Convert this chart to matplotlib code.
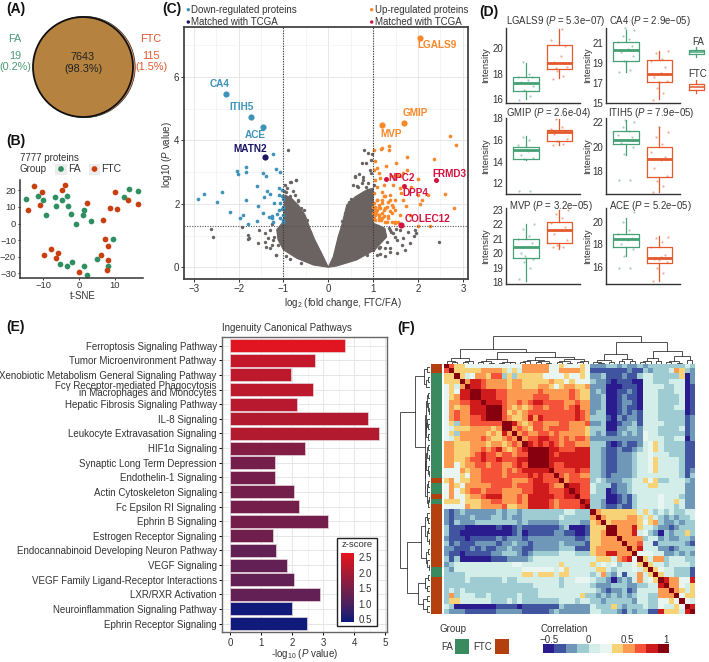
import matplotlib
matplotlib.use('Agg')
import matplotlib.pyplot as plt
from matplotlib.colors import ListedColormap, LinearSegmentedColormap
from matplotlib.patches import Circle, Rectangle
import numpy as np

plt.rcParams['font.family'] = ['Liberation Sans', 'DejaVu Sans']
plt.rcParams['mathtext.fontset'] = 'custom'
plt.rcParams['mathtext.rm'] = 'Liberation Sans'
plt.rcParams['mathtext.it'] = 'Liberation Sans:italic'
plt.rcParams['mathtext.bf'] = 'Liberation Sans:bold'
plt.rcParams['mathtext.default'] = 'regular'

W, H = 709, 662
TXT = '#333333'
GREEN = '#2f8f63'
RED = '#c8400f'

# ---------- panel B ----------
tsne_fa_x = [-14.9,-11.5,-10.1,-9.3,-6.7,-6.6,-4.8,-3.3,-3.0,-2.4,-0.8,1.3,1.1,3.4,12.6,14.1,16.4,9.4,5.1,8.0,-5.3,-3.3,-2.0,1.3,2.3]
tsne_fa_y = [14.5,16.7,14.1,5.4,16.1,10.7,13.9,16.5,10.5,5.8,0,8.1,5.0,1.6,16.1,20.6,19.6,-9.5,-21.4,-25.8,-24.2,-25.8,-23.2,-25.6,-31.0]
tsne_ftc_x = [-14.3,-12.6,-10.3,-10.9,-4.8,-4.0,2.3,6.8,8.7,10.1,10.6,13.6,16.5,7.2,8.0,-9.8,-7.8,-6.0,-6.6,6.1,8.1,7.7,0.1]
tsne_ftc_y = [8.3,22.6,19.2,11.3,20.4,23.4,12.1,2.2,9.5,18.8,8.7,13.9,11.7,-9.5,-13.5,-18.8,-15.3,-17.9,-20.6,-19.0,-21.8,-28.2,-29.4]

# ---------- panel C ----------
down_x = [-2.90,-2.77,-2.37,-2.48,-2.19,-1.96,-1.90,-1.80,-1.59,-1.83,-1.83,-1.83,-2.04,-2.02,-1.58,-1.46,-1.38,-1.24,-1.16,-1.07,-1.46,-1.56,-1.37,-1.29,-1.43,-1.22,-1.11,-1.07,-1.33,-1.26,-1.23,-1.14,-1.10,-1.03,-1.08,-1.00,-1.25,-1.04,-1.00,-1.03,-1.10,-1.02,-1.00,-1.00]
down_y = [2.14,2.32,2.38,2.07,1.75,1.55,1.64,1.36,1.45,2.11,3.17,3.00,3.04,2.95,2.56,2.96,2.87,3.56,3.09,3.00,1.70,1.94,2.41,2.32,2.20,2.02,2.49,2.02,1.59,1.62,1.43,1.69,1.79,1.83,1.55,1.49,1.54,2.23,2.14,2.44,2.28,1.91,1.65,1.41]
up_x = [2.71,2.85,2.35,1.75,1.20,1.17,1.02,1.35,1.36,1.03,1.29,1.08,1.51,1.02,1.12,1.75,1.67,1.60,1.52,1.41,1.15,1.04,1.99,1.84,1.62,1.60,1.45,1.23,1.08,1.19,1.02,1.23,1.38,1.49,1.67,2.01,2.08,2.23,2.60,2.80,2.04,1.73,1.82,2.01,2.27,1.41,1.60,1.34,1.49,1.30,1.17,1.04,1.12,1.19,1.08,1.02,1.06,1.14,1.23,1.02,1.12,1.00,1.00,1.30,1.45,1.38,1.23,
        1.04,1.08,1.12,1.15,1.04,1.12,1.19,1.04,1.12,1.19,1.26,1.08,1.19,1.26,1.34,1.41,1.26,1.38,1.49,1.34,1.41,1.49,1.56]
up_y = [4.12,3.85,3.42,3.48,3.75,3.72,3.68,3.82,3.70,3.34,3.20,3.12,3.27,3.07,2.96,3.05,2.96,2.86,2.91,2.86,2.80,2.75,2.78,2.54,2.33,2.49,2.59,2.59,2.54,2.38,2.33,2.23,2.28,2.12,2.12,2.28,2.12,2.27,2.32,1.86,2.00,1.93,1.65,1.31,1.31,1.70,1.65,1.60,1.44,1.41,1.49,1.81,1.91,2.02,2.12,2.02,1.70,1.65,1.81,1.54,1.54,1.70,1.91,1.91,1.91,2.12,1.60,
        1.91,1.81,1.96,1.86,1.65,1.65,1.70,1.49,1.49,1.54,1.44,2.12,2.12,2.23,2.07,1.96,1.86,1.76,1.81,1.54,1.44,1.39,1.44]
gray_x = [-2.62,-2.58,-1.93,-1.78,-1.77,-1.80,-1.55,-1.41,-1.30,-1.56,-1.41,-1.38,-1.17,-1.30,-1.23,-0.89,-0.71,-0.86,-0.97,-0.95,-0.74,-0.67,-0.86,0.80,0.89,0.98,0.96,0.85,0.74,0.59,0.56,0.63,0.78,0.74,0.85,0.93,0.96,0.93,2.46,1.96,1.93,1.90,1.64,1.67,1.82,1.38,1.30,1.52,1.45,1.78,1.60,1.38,1.12,1.00,0.86,1.26,-1.05,-1.10,-1.25,-1.35,-0.98,-0.92,-1.12,0.68,0.72,1.02,1.35,1.50,1.70,1.10,1.25,
          -0.71,-0.83,-0.68,-0.60,-0.48,-0.40,-0.55,-0.78,0.60,0.67,0.45,0.37,0.89,0.50,0.30,0.78,1.15,1.26,1.38,1.15,1.53,1.08,1.48,1.40,-1.26,-1.17,-1.22,-0.95,-0.85,-0.60,-1.05]
gray_y = [1.22,0.95,1.28,1.02,0.91,0.89,1.18,1.07,1.18,0.76,0.81,0.65,0.39,0.60,0.86,3.70,2.75,2.69,2.59,2.38,2.27,2.12,2.23,3.68,3.59,3.57,3.39,3.29,3.27,2.87,2.58,2.56,2.84,2.65,2.54,3.05,2.96,2.33,0.78,1.07,1.18,0.97,0.71,0.92,0.76,0.60,0.81,0.86,1.07,1.12,1.18,1.18,0.60,0.55,0.39,0.34,1.30,1.10,1.35,0.92,2.40,2.50,0.70,2.95,2.25,2.60,1.25,1.20,0.55,1.30,0.95,
          2.75,2.67,2.10,1.86,1.49,1.10,1.80,2.40,2.84,2.54,2.07,1.70,2.65,2.15,1.45,2.75,0.65,0.60,0.49,0.42,0.45,0.38,0.95,1.10,0.70,0.37,0.95,0.35,0.25,0.12,1.05]
mass_right_x = [0,0.11,0.22,0.30,0.41,0.60,0.86,1.0,1.0,1.26,1.30,1.04,0.63,0.19]
mass_right_y = [0,0.33,0.96,1.33,1.96,2.22,2.44,2.49,1.39,1.23,0.96,0.55,0.23,0.04]
mass_left_x = [0,-0.15,-0.30,-0.41,-0.52,-0.67,-0.82,-0.97,-0.99,-1.0,-1.15,-1.12,-1.0,-0.70,-0.33]
mass_left_y = [0,0.44,0.86,1.23,1.65,1.96,2.17,2.28,1.75,1.44,1.18,0.86,0.55,0.28,0.07]
named_genes = ['LGALS9','CA4','ITIH5','ACE','MATN2','GMIP','MVP','NPC2','DPP4','FRMD3','COLEC12']
named_x = [2.04,-2.29,-1.72,-1.46,-1.41,1.69,1.20,1.29,1.69,2.39,1.62]
named_y = [7.22,5.45,4.74,4.41,3.46,4.55,4.49,2.78,2.56,2.74,1.33]

# ---------- panel D : [low whisker, q1, median, q3, high whisker] ----------
lgals9_fa = [15.95,16.64,17.22,17.70,18.86]; lgals9_ftc = [17.62,18.36,18.86,20.24,21.5]
ca4_fa = [18.07,19.17,20.33,21.17,22.33]; ca4_ftc = [15.33,17.1,17.93,19.27,20.17]
gmip_fa = [14.15,14.28,15.02,15.38,16.37]; gmip_ftc = [15.5,15.88,16.68,16.92,17.9]
itih5_fa = [19.34,20.25,20.58,21.26,22.16]; itih5_ftc = [16.33,17.56,18.99,19.97,21.62]
mvp_fa = [18.1,19.66,20.46,21.0,22.0]; mvp_ftc = [20.3,20.69,21.63,22.14,23.0]
ace_fa = [16.96,17.8,18.5,18.95,20.36]; ace_ftc = [14.8,16.36,16.77,17.76,18.74]
lgals9_pts_fa = [15.9,16.2,16.7,17.0,17.3,17.5,17.7,17.75,18.0,18.9]
lgals9_pts_ftc = [17.6,17.8,18.2,18.5,18.9,19.4,20.2,20.7,21.5,18.4]
ca4_pts_fa = [18.1,18.3,19.2,19.7,20.1,20.4,20.7,21.1,21.4,21.7,22.3,22.5]
ca4_pts_ftc = [15.3,16.0,16.5,17.2,17.6,18.0,18.6,19.2,19.4,20.0,20.2,17.1]
gmip_pts_fa = [11.3,11.3,14.2,14.3,14.6,15.0,15.1,15.5,16.0,16.3]
gmip_pts_ftc = [15.5,15.6,15.9,16.1,16.5,16.7,16.8,17.0,17.2,17.9]
itih5_pts_fa = [17.3,17.3,19.4,20.0,20.3,20.6,20.8,21.0,21.3,21.6,22.0,22.2]
itih5_pts_ftc = [16.3,16.8,17.2,17.6,18.3,18.9,19.2,19.6,20.2,20.8,21.2,21.6]
mvp_pts_fa = [18.2,19.0,19.4,19.6,20.0,20.4,20.7,21.0,21.2,21.7,22.0,19.8]
mvp_pts_ftc = [20.4,20.4,20.6,20.9,21.3,21.6,21.8,22.1,22.4,22.7,23.0,20.5]
ace_pts_fa = [15.9,15.9,17.0,17.6,18.0,18.4,18.6,18.9,19.3,20.0,20.9,21.2]
ace_pts_ftc = [14.8,15.5,15.9,16.4,16.7,16.9,17.1,17.8,18.2,18.6,18.7,16.6]
jitter = [-0.2,0.12,-0.06,0.22,-0.15,0.05,0.18,-0.24,0.09,-0.1,0.25,-0.02]

# ---------- panel E ----------
pathways = ['Ferroptosis Signaling Pathway','Tumor Microenvironment Pathway','Xenobiotic Metabolism General Signaling Pathway',
 'Fcγ Receptor-mediated Phagocytosis\nin Macrophages and Monocytes','Hepatic Fibrosis Signaling Pathway','IL-8 Signaling',
 'Leukocyte Extravasation Signaling','HIF1α Signaling','Synaptic Long Term Depression','Endothelin-1 Signaling',
 'Actin Cytoskeleton Signaling','Fc Epsilon RI Signaling','Ephrin B Signaling','Estrogen Receptor Signaling',
 'Endocannabinoid Developing Neuron Pathway','VEGF Signaling','VEGF Family Ligand-Receptor Interactions','LXR/RXR Activation',
 'Neuroinflammation Signaling Pathway','Ephrin Receptor Signaling']
neglogp = [3.71,2.75,1.96,2.68,2.15,4.46,4.81,2.43,1.44,1.46,2.05,2.24,3.17,1.40,1.49,1.83,2.05,2.89,2.01,2.49]
zscore = [2.55,2.25,2.2,2.2,2.15,2.1,2.1,1.6,1.45,1.45,1.45,1.45,1.45,1.4,1.25,1.25,1.25,1.25,0.45,0.45]

# ---------- panel F : upper triangle of the correlation matrix, one letter per colour class ----------
corr_levels = ['#2a1c8e','#40549f','#6f97b8','#9fcbd2','#d3ede9','#e8f5f0','#f8d277','#fb9a50','#f4533a','#cf1b1b','#860010']
ul = ["kiggfffffffffffhhhhhffgfffgf","kggggghhhhgegehhhhhffhhhhgf","kgefhhgiidgdgggggffffgffgf","khjjihhhhghhggggghggfgfff",
"kjjihhhhghhggghhgfghhggh","kkjjjiihhhhhhihhhhhihgg","kjjjiihhhhhiiihhhhihgg","kjjjihhihijjiiiihhihh","kkkihghghiihiiihijhh",
"kkighghiiiiiiiiijih","kihgghjhjiiiiiijih","kkjhghiihhhiihhhi","khihgiihiiiihhhg","khihhiihihhhhhg",
"khiijjiihihiih","kjijijihiihhh","kkkkjjiiijjj","kkkjijjjjjj","kkjjjjjjjj","kjiijjjjj","kiiiijii","kihiihh","khiiii","kjjii","kjii","kii","kj","k"]
ur = ["cccddcdccdcddddddded","bbbbbbbcbbdcdddehgdc","ccdbbbcbbdeedddddgac","dccbabbbaaeedddeeeac","cccaaabbbaeeeeddeeab","cdcaabbcbaeeedddeeab",
"ccdaabcbbaeeeddddeab","ccdaabccbaeeeddddeab","ccdaabcbbaeeedddeeab","cddaabcbcbeeedddddab","dddbacbccbeeedddddbc","ccdaabccdbeeeeddddbc",
"dddaaccddceeeddddebc","dcdbbcdcdcfeedddddbc","ccccccccccfeeeddeeac","dddbabcbbcefgeddddbb","ddcbbcbbcdefgeddddbb","ddcbbcccdeefeeedddbb",
"ddcbbcccdeefgeeeedbb","ddcbbcccdeefgeeeedbb","ddcbbcccdeefgeeeedbc","ddcbccccdeeeeeeeedbd","dedcccddeegfgddeeedc","edddbccdeeeggeeeeecc",
"eddabccdeeeeeeeeeecc","dddaabcbdeeeefeeedcc","ddcaabcbdeeeefeegecc","ddcbbcbbdeeeefeedecc"]
lr = ["khgggggggegedededdee","khgggghhgegedcdcdde","kghhhhhgfghdccdcdd","kkhhhjgeedccbcddd","khhhjefdcadcddgd","khhhhdeecdccddc",
"khhieebdddddcb","khjeeeccbcddd","kfffeeccdcdc","kgehhdeeedd","kgeedeeeed","kgfeedddb","kgeedddb","kjhhffj","khhfeg","khgeg","kfgg","kfe","kj","k"]
row_groups = ['FTC']*2+['FA']*20+['FTC']+['FA']*2+['FTC']+['FA']+['FTC']*12+['FA']*2+['FTC']*7
# dendrograms: (height, left, right) with 0 for a leaf
row_tree = (91,(45,(18,(8,0,0),(13,(6,0,0),0)),
  (15,(13,(9,(5,0,0),(7,0,(4,0,0))),(11,(8,0,(5,0,0)),(6,0,0))),
      (14,(12,(9,(6,0,0),(4,0,0)),(7,0,(4,0,0))),(10,(8,(5,0,0),0),(6,(3,0,0),0))))),
  (68,(28,(15,(8,0,(5,0,0)),(9,(6,0,0),(4,0,0))),(12,(7,0,0),(8,0,(4,0,0)))),
      (35,(14,(7,0,0),(9,0,0)),(20,(10,0,0),(8,0,0)))))
col_tree = (84,(44,(17,(8,0,(5,0,0)),(9,(6,0,0),0)),
  (35,(15,(9,(6,0,0),(4,0,0)),(7,(3,0,0),(5,0,0))),
      (20,(12,(8,(5,0,0),0),(9,(5,0,0),(4,0,0))),(14,(9,(6,0,0),(4,0,0)),(8,(5,0,0),0))))),
  (65,(30,(12,(7,0,(4,0,0)),(6,0,0)),(15,(9,0,0),(8,0,0))),
      (40,(18,(9,(5,0,0),0),(8,0,0)),(25,(10,(6,0,0),(4,0,0)),(12,0,0)))))

fig = plt.figure(figsize=(W/100, H/100), dpi=100)

def axpx(l, t, r, b, **kw):
    return fig.add_axes([l/W, 1-b/H, (r-l)/W, (b-t)/H], **kw)

ov = axpx(0, 0, W, H)
ov.set_xlim(0, W); ov.set_ylim(H, 0); ov.axis('off'); ov.set_zorder(10); ov.patch.set_alpha(0)

for lab, x, y in [('(A)',6,9),('(B)',6,141),('(C)',162,9),('(D)',479,12),('(E)',6,327),('(F)',397,328)]:
    ov.text(x, y, lab, fontsize=10, fontweight='bold', va='center', ha='left', color='#111111')

# ---------- A ----------
ov.add_patch(Circle((84.6, 67), 50.6, fc='#f09a62', ec='#2a2a2a', lw=0.5))
ov.add_patch(Circle((83, 67), 50, fc='#b5823f', ec='#111111', lw=1.3))
ov.text(83, 57, '7643', fontsize=7.8, ha='center', va='center', color='#222222')
ov.text(83, 69, '(98.3%)', fontsize=7.8, ha='center', va='center', color='#222222')
for t, y in [('FA',39),('19',56),('(0.2%)',67)]:
    ov.text(15, y, t, fontsize=7.8, ha='center', va='center', color='#4d9a75')
for t, y in [('FTC',39),('115',56),('(1.5%)',67)]:
    ov.text(151, y, t, fontsize=7.8, ha='center', va='center', color='#e0562c')

# ---------- B ----------
axb = axpx(19.5, 180, 143, 278)
axb.scatter(tsne_fa_x, tsne_fa_y, s=17, color=GREEN, lw=0)
axb.scatter(tsne_ftc_x, tsne_ftc_y, s=17, color=RED, lw=0)
axb.set_xlim(-16.7, 17.9); axb.set_ylim(-32.8, 26.2)
axb.set_xticks([-10,0,10]); axb.set_yticks([-30,-20,-10,0,10,20])
axb.set_xticklabels(['\u221210','0','10']); axb.set_yticklabels(['\u221230','\u221220','\u221210','0','10','20'])
axb.tick_params(labelsize=6.8, length=1.5, width=0.7, pad=1, labelcolor=TXT, color=TXT)
for s in ['top','right']: axb.spines[s].set_visible(False)
for s in ['left','bottom']: axb.spines[s].set_linewidth(1.1); axb.spines[s].set_color('#333333')
ov.text(20, 158, '7777 proteins', fontsize=7, va='center', color=TXT)
ov.text(20, 169.5, 'Group', fontsize=7, va='center', color=TXT)
ov.add_patch(Rectangle((55,163.5),11.5,11.5,fc='#ececec',ec='none'))
ov.add_patch(Rectangle((88.5,163.5),11.5,11.5,fc='#ececec',ec='none'))
ov.scatter([61,94.5],[169,169],s=17,c=[GREEN,RED],lw=0)
ov.text(68.5,169.5,'FA',fontsize=7.5,va='center',color=TXT)
ov.text(101.5,169.5,'FTC',fontsize=7.5,va='center',color=TXT)
ov.text(83, 296, 't-SNE', fontsize=7, ha='center', va='center', color=TXT)

# ---------- C ----------
BLUE_C, NAVY, ORANGE, CRIM, GRAY = '#3f93ba', '#1b1464', '#f9882a', '#d3123f', '#6b6262'
axc = axpx(184.3, 27.3, 468.3, 279.3)
axc.set_xlim(-3.21, 3.12); axc.set_ylim(-0.38, 7.56)
axc.set_xticks(np.arange(-3,4)); axc.set_yticks([0,2,4,6])
axc.set_xticklabels(['\u22123','\u22122','\u22121','0','1','2','3'])
axc.set_yticks([1,3,5,7], minor=True); axc.set_xticks(np.arange(-2.5,3,1), minor=True)
axc.grid(True, which='major', color='#e7e7e7', lw=0.7); axc.grid(True, which='minor', color='#f2f2f2', lw=0.5)
axc.set_axisbelow(True)
axc.tick_params(which='minor', length=0)
axc.tick_params(labelsize=7, length=2, width=0.7, pad=1.5, labelcolor=TXT, color=TXT)
for s in axc.spines.values(): s.set_linewidth(1.3); s.set_color('#444444')
axc.fill(mass_right_x, mass_right_y, color=GRAY, lw=0.8, zorder=2)
axc.fill(mass_left_x, mass_left_y, color=GRAY, lw=0.8, zorder=2)
axc.scatter(gray_x, gray_y, s=6, color=GRAY, lw=0, zorder=2)
axc.scatter(down_x, down_y, s=7, color=BLUE_C, lw=0, zorder=3)
axc.scatter(up_x, up_y, s=7, color=ORANGE, lw=0, zorder=3)
axc.axvline(-1, color='#333333', ls=(0,(1,1.3)), lw=0.8, zorder=4)
axc.axvline(1, color='#333333', ls=(0,(1,1.3)), lw=0.8, zorder=4)
axc.axhline(1.3, color='#555555', ls=(0,(1,1.3)), lw=0.8, zorder=4)
named_color = [ORANGE,BLUE_C,BLUE_C,BLUE_C,NAVY,ORANGE,ORANGE,CRIM,CRIM,CRIM,CRIM]
named_size = [20,20,20,20,20,20,20,13,13,13,20]
label_pos = [(2.43,6.99),(-2.42,5.78),(-1.93,5.06),(-1.62,4.18),(-1.75,3.72),(1.95,4.87),(1.40,4.21),(1.64,2.80),(1.93,2.33),(2.70,2.93),(2.20,1.52)]
for g,x,y,c,sz,(lx,ly) in zip(named_genes,named_x,named_y,named_color,named_size,label_pos):
    axc.scatter([x],[y],s=sz,color=c,lw=0,zorder=5)
    axc.text(lx,ly,g,fontsize=7.2,fontweight='bold',color=c,ha='center',va='center',zorder=6)
ov.text(342.7, 303, r'log$_2$ (fold change, FTC/FA)', fontsize=7, ha='center', va='center', color=TXT)
ov.text(166.5, 155, r'log10 ($\it{P}$ value)', fontsize=7, rotation=90, ha='center', va='center', color=TXT)
ov.scatter([188.3,188.3,371.7,371.7],[9.7,22,9.7,22],s=[6,6,6,6],c=[BLUE_C,NAVY,ORANGE,CRIM],lw=0)
for x,y,t in [(191,9.7,'Down-regulated proteins'),(191,22,'Matched with TCGA'),(375,9.7,'Up-regulated proteins'),(375,22,'Matched with TCGA')]:
    ov.text(x,y,t,fontsize=7,va='center',color=TXT)

# ---------- D ----------
LG, LO = '#46a075', '#e4592c'
panels = [
 ('LGALS9','5.3e\u221207',lgals9_fa,lgals9_ftc,lgals9_pts_fa,lgals9_pts_ftc,(505.7,27.7,580,102.7),(15.68,21.64),[16,18,20],False,505.7,20.7),
 ('CA4','2.9e\u221205',ca4_fa,ca4_ftc,ca4_pts_fa,ca4_pts_ftc,(605.7,27.7,680,102.7),(15.07,22.57),[15,17,19,21],True,609,20.7),
 ('GMIP','2.6e-04',gmip_fa,gmip_ftc,gmip_pts_fa,gmip_pts_ftc,(505.7,118,580,194),(11.02,18.0),[12,14,16,18],False,505.7,113.3),
 ('ITIH5','7.9e\u221205',itih5_fa,itih5_ftc,itih5_pts_fa,itih5_pts_ftc,(605.7,118,680,194),(16.14,22.36),[18,20,22],True,607.5,113.3),
 ('MVP','3.2e\u221205',mvp_fa,mvp_ftc,mvp_pts_fa,mvp_pts_ftc,(505.7,208,580,284),(17.89,23.11),[18,19,20,21,22,23],False,509,206),
 ('ACE','5.2e\u221205',ace_fa,ace_ftc,ace_pts_fa,ace_pts_ftc,(605.7,208,680,284),(14.49,21.24),[16,18,20],True,609,206),
]
for name,pv,fa,ftc,pf,pt,box,yl,yt,right,tx,ty in panels:
    ax = axpx(*box)
    ax.set_xlim(0.39,2.62); ax.set_ylim(*yl); ax.set_xticks([]); ax.set_yticks(yt)
    for pos,st,col,pts in [(1,fa,LG,pf),(2,ftc,LO,pt)]:
        ax.bxp([dict(med=st[2],q1=st[1],q3=st[3],whislo=st[0],whishi=st[4],fliers=[])],positions=[pos],widths=0.77,
               showcaps=False,showfliers=False,manage_ticks=False,
               boxprops=dict(color=col,lw=0.9),whiskerprops=dict(color=col,lw=0.9),medianprops=dict(color=col,lw=2,solid_capstyle='butt'))
        xs = [pos+jitter[i%len(jitter)] for i in range(len(pts))]
        ax.scatter(xs,pts,s=2.5,color=col,alpha=0.5,lw=0,clip_on=False)
    ax.tick_params(labelsize=7,length=0,pad=2,labelcolor=TXT)
    for s in ['top','right']: ax.spines[s].set_visible(False)
    for s in ['left','bottom']: ax.spines[s].set_linewidth(1.0); ax.spines[s].set_color('#333333')
    ov.text(tx, ty, rf'{name} ($\it{{P}}$ = {pv})', fontsize=6.9, va='center', ha='left', color=TXT)
    ov.text(box[0]-20 if not right else box[0]-18.5, (box[1]+box[3])/2, 'Intensity', fontsize=6.8, rotation=90, ha='center', va='center', color=TXT)
ov.text(698, 42, 'FA', fontsize=7, ha='center', va='center', color=TXT)
ov.text(698, 74, 'FTC', fontsize=7, ha='center', va='center', color=TXT)
leg = axpx(688, 46, 708, 95)
leg.set_xlim(0,1); leg.set_ylim(0,49); leg.axis('off')
for col,st in [(LG,[38,41,43,45,48]),(LO,[2,5.5,8,11,15])]:
    leg.bxp([dict(med=st[2],q1=st[1],q3=st[3],whislo=st[0],whishi=st[4],fliers=[])],positions=[0.42],widths=0.78,
            showcaps=False,showfliers=False,manage_ticks=False,boxprops=dict(color=col,lw=0.9),
            whiskerprops=dict(color=col,lw=0.9),medianprops=dict(color=col,lw=1.1))

# ---------- E ----------
cm_e = LinearSegmentedColormap.from_list('z',['#0c1a7c','#4a2160','#7a1f48','#b01a30','#e8141e'])
norm_e = plt.Normalize(0.41,2.63)
axe = axpx(222.3,337.3,386.7,632.3)
yy = np.arange(len(pathways))
axe.barh(yy,neglogp,height=0.89,color=cm_e(norm_e(zscore)),edgecolor='#e8d8dc',lw=0.5,zorder=3)
axe.set_xlim(-0.247,5.05); axe.set_ylim(19.6,-0.57)
axe.set_yticks(yy); axe.set_yticklabels(pathways,fontsize=7.0,color=TXT,linespacing=0.72)
axe.set_xticks(range(6)); axe.set_xticks(np.arange(0.5,5,1),minor=True)
axe.grid(True,which='major',color='#e6e6e6',lw=0.7); axe.grid(True,which='minor',axis='x',color='#f1f1f1',lw=0.5)
axe.set_axisbelow(True)
axe.tick_params(axis='x',labelsize=7,length=2,width=0.7,pad=2,labelcolor=TXT)
axe.tick_params(axis='x',which='minor',length=0)
axe.tick_params(axis='y',length=2,width=0.7,pad=2)
for s in axe.spines.values(): s.set_linewidth(1.0); s.set_color('#666666')
ov.text(221.7,328,'Ingenuity Canonical Pathways',fontsize=7,va='center',color=TXT)
ov.text(304.5,654,r'-log$_{10}$ ($\it{P}$ value)',fontsize=7,ha='center',va='center',color=TXT)
ov.add_patch(Rectangle((337.3,538.3),39.3,87.7,fc='white',ec='#222222',lw=1.0))
ov.text(357,544.7,'z-score',fontsize=6.8,ha='center',va='center',color=TXT)
axcb = axpx(341.3,553.3,354.3,622)
axcb.imshow(np.linspace(2.63,0.41,256).reshape(-1,1),aspect='auto',cmap=cm_e,norm=norm_e,extent=[0,1,0.41,2.63])
axcb.set_xticks([]); axcb.yaxis.tick_right(); axcb.set_yticks([0.5,1,1.5,2,2.5]); axcb.set_yticklabels(['0.5','1.0','1.5','2.0','2.5'])
axcb.tick_params(labelsize=7,length=0,pad=3,labelcolor=TXT)
for s in axcb.spines.values(): s.set_visible(False)
axcb.set_zorder(11)

# ---------- F ----------
n = 48
mat = np.zeros((n,n),dtype=int)
def put(r,c0,s):
    for k,ch in enumerate(s):
        v = ord(ch)-97
        mat[r,c0+k] = v; mat[c0+k,r] = v
for r,s in enumerate(ul): put(r,r,s[:28-r])
for r,s in enumerate(ur): put(r,28,s)
for r,s in enumerate(lr): put(28+r,28+r,s)
axf = axpx(444.3,364,695,614.3)
axf.imshow(mat,cmap=ListedColormap(corr_levels),vmin=-0.5,vmax=10.5,aspect='auto',interpolation='nearest')
axf.axis('off')
axs = axpx(430.7,364,441,614.3)
axs.imshow(np.array([[0 if g=='FA' else 1] for g in row_groups]),cmap=ListedColormap(['#3a8a60','#b5400f']),aspect='auto',interpolation='nearest')
axs.axis('off')

def draw_tree(ax,node,state,horizontal):
    if node == 0:
        p = state[0]; state[0] += 1
        return p,0
    h,a,b = node
    pa,ha = draw_tree(ax,a,state,horizontal)
    pb,hb = draw_tree(ax,b,state,horizontal)
    xs,ys = [pa,pa,pb,pb],[ha,h,h,hb]
    if horizontal: ax.plot(xs,ys,color='#333333',lw=0.6,solid_joinstyle='miter')
    else: ax.plot(ys,xs,color='#333333',lw=0.6,solid_joinstyle='miter')
    return (pa+pb)/2,h

axd1 = axpx(399.5,364,430,614.3); axd1.set_xlim(91.5,0); axd1.set_ylim(47.5,-0.5); axd1.axis('off')
draw_tree(axd1,row_tree,[0],False)
axd2 = axpx(444.3,336,695,364); axd2.set_xlim(-0.5,47.5); axd2.set_ylim(0,84.5); axd2.axis('off')
draw_tree(axd2,col_tree,[0],True)

ov.text(440,629.5,'Group',fontsize=7,va='center',color=TXT)
ov.text(447,646.5,'FA',fontsize=7,ha='center',va='center',color=TXT)
ov.add_patch(Rectangle((454.5,639),14.5,14.5,fc='#3a8a60',ec='none'))
ov.text(483,646.5,'FTC',fontsize=7,ha='center',va='center',color=TXT)
ov.add_patch(Rectangle((494.5,639),14.5,14.5,fc='#b5400f',ec='none'))
ov.text(540.5,629.5,'Correlation',fontsize=7,va='center',color=TXT)
axl = axpx(543.3,644.3,668.7,652.7)
axl.imshow(np.arange(11).reshape(1,-1),cmap=ListedColormap(corr_levels),aspect='auto',interpolation='nearest',extent=[-0.6,1.08,0,1])
axl.axis('off')
for t,x in [('\u22120.5',549),('0',588.3),('0.5',627.3),('1',665.7)]:
    ov.text(x,640,t,fontsize=7,ha='center',va='center',color=TXT)

fig.savefig('out.png',dpi=100)
